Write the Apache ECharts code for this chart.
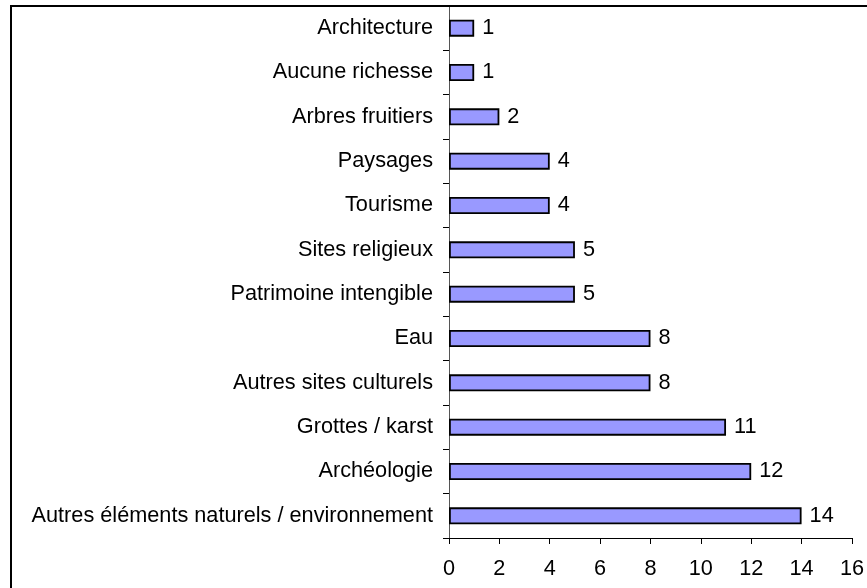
<!DOCTYPE html>
<html>
<head>
<meta charset="utf-8">
<script src="https://cdn.jsdelivr.net/npm/echarts@6/dist/echarts.min.js"></script>
<style>
  html, body { margin: 0; padding: 0; background: #ffffff; }
  #chart { width: 867px; height: 588px; }
</style>
</head>
<body>
<div id="chart"></div>
<script>
// Categories listed bottom to top (category axis on y starts at the bottom)
var categories = [
  'Autres éléments naturels / environnement',
  'Archéologie',
  'Grottes / karst',
  'Autres sites culturels',
  'Eau',
  'Patrimoine intengible',
  'Sites religieux',
  'Tourisme',
  'Paysages',
  'Arbres fruitiers',
  'Aucune richesse',
  'Architecture'
];
var counts = [14, 12, 11, 8, 8, 5, 5, 4, 4, 2, 1, 1];
var xTicks = [0, 2, 4, 6, 8, 10, 12, 14, 16];

var FONT = '"Liberation Sans", Arial, sans-serif';
var FS = 21.7;
var chart = echarts.init(document.getElementById('chart'), null, { renderer: 'canvas' });

chart.setOption({
  animation: false,
  backgroundColor: '#ffffff',
  grid: { left: 449, top: 6, right: 13, bottom: 50, containLabel: false },
  graphic: [{
    type: 'rect',
    shape: { x: 11, y: 6, width: 900, height: 700 },
    style: { fill: 'none', stroke: '#000000', lineWidth: 2 },
    silent: true,
    z: 100
  }],
  xAxis: {
    type: 'value',
    min: xTicks[0],
    max: xTicks[xTicks.length - 1],
    interval: xTicks[1] - xTicks[0],
    axisLine: { show: true, lineStyle: { color: '#000000', width: 1 } },
    axisTick: { show: true, length: 6, lineStyle: { color: '#000000' } },
    splitLine: { show: false },
    axisLabel: { color: '#000000', fontFamily: FONT, fontSize: FS, margin: 20 }
  },
  yAxis: {
    type: 'category',
    data: categories,
    axisLine: { show: true, lineStyle: { color: '#555555', width: 1 } },
    axisTick: { show: true, length: 6, lineStyle: { color: '#000000' } },
    axisLabel: { color: '#000000', fontFamily: FONT, fontSize: FS, margin: 16 }
  },
  series: [{
    type: 'bar',
    data: counts,
    barWidth: 17,
    itemStyle: { color: '#9999ff', borderColor: '#000000', borderWidth: 1.8 },
    label: {
      show: true,
      position: 'right',
      distance: 8,
      color: '#000000',
      fontFamily: FONT,
      fontSize: FS
    }
  }]
});
</script>
</body>
</html>
